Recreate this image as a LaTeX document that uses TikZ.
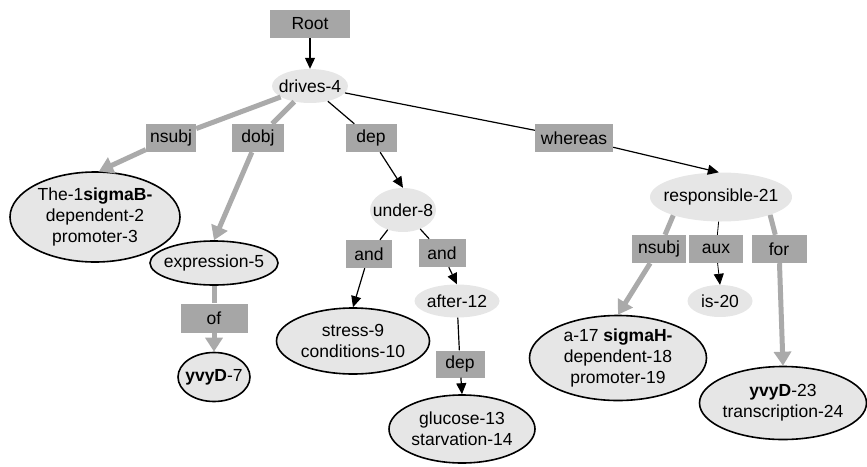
\documentclass[tikz,border=0pt]{standalone}
\usepackage{fontspec}
\setmainfont{Liberation Sans}
\usetikzlibrary{arrows.meta,shapes.geometric}
\definecolor{lblgray}{RGB}{166,166,166}
\definecolor{ellgray}{RGB}{230,230,230}
\definecolor{edgegray}{RGB}{170,170,170}
\tikzset{
  lbl/.style={rectangle,fill=lblgray,inner sep=0pt},
  wnode/.style={ellipse,fill=ellgray,inner sep=0pt},
  bnode/.style={wnode,draw=black,line width=1.6pt},
  garr/.style={draw=edgegray,line width=5pt},
  garrow/.style={garr,-{Triangle[length=14pt,width=17pt]}},
  barr/.style={draw=black,line width=1.2pt},
  barrow/.style={barr,-{Triangle[length=11pt,width=10pt]}},
  every label/.style={align=center,inner sep=0pt}
}
\begin{document}
\begin{tikzpicture}[x=1pt,y=-1pt,font=\fontsize{17.5}{21}\selectfont]
\useasboundingbox (0,0) rectangle (867,466);
% label boxes
\node[lbl,minimum width=80pt,minimum height=28pt] (root) at (310,24) {Root};
\node[lbl,minimum width=50pt,minimum height=28pt] (nsubj) at (171,138) {nsubj};
\node[lbl,minimum width=52pt,minimum height=28pt] (dobj) at (258,138) {dobj};
\node[lbl,minimum width=51pt,minimum height=28pt] (dep) at (371,138) {dep};
\node[lbl,minimum width=78pt,minimum height=28pt] (whereas) at (574,138) {whereas};
\node[lbl,minimum width=67pt,minimum height=29pt] (of) at (214,318) {of};
\node[lbl,minimum width=46pt,minimum height=28pt] (andl) at (369,254) {and};
\node[lbl,minimum width=47pt,minimum height=28pt] (andr) at (442,253) {and};
\node[lbl,minimum width=49pt,minimum height=27pt] (depl) at (460,364) {dep};
\node[lbl,minimum width=54pt,minimum height=28pt] (nsubjr) at (659,249) {nsubj};
\node[lbl,minimum width=54pt,minimum height=28pt] (aux) at (716,249) {aux};
\node[lbl,minimum width=55pt,minimum height=28pt] (for) at (779,249) {for};
% word nodes
\node[wnode,minimum width=76pt,minimum height=34pt,label={center:drives-4}] (drives) at (310,86) {};
\node[bnode,minimum width=170pt,minimum height=90pt,label={center:{The-1\textbf{sigmaB-}\\dependent-2\\promoter-3}}] (the1) at (95,217) {};
\node[wnode,minimum width=66pt,minimum height=44pt,label={center:under-8}] (under) at (403,210) {};
\node[wnode,minimum width=142pt,minimum height=49pt,label={center:responsible-21}] (resp) at (721,197) {};
\node[bnode,minimum width=128pt,minimum height=44pt,label={center:expression-5}] (expr) at (214,263) {};
\node[bnode,minimum width=72pt,minimum height=49pt,label={center:{\textbf{yvyD}-7}}] (yvyd7) at (214,377) {};
\node[bnode,minimum width=153pt,minimum height=66pt,label={center:{stress-9\\conditions-10}}] (stress) at (353,341) {};
\node[wnode,minimum width=85pt,minimum height=33pt,label={center:after-12}] (after) at (457,301) {};
\node[bnode,minimum width=146pt,minimum height=68pt,label={center:{glucose-13\\starvation-14}}] (glucose) at (462,429) {};
\node[wnode,minimum width=65pt,minimum height=32pt,label={center:is-20}] (is20) at (720,301) {};
\node[bnode,minimum width=177pt,minimum height=85pt,label={center:{a-17 \textbf{sigmaH-}\\dependent-18\\promoter-19}}] (a17) at (618,358) {};
\node[bnode,minimum width=167pt,minimum height=73pt,label={center:{\textbf{yvyD}-23\\transcription-24}}] (yvyd23) at (783,403) {};
% connectors
\draw[barrow] (root) -- (drives);
\draw[garr] (drives) -- (nsubj);
\draw[garrow] (nsubj) -- (the1.85);
\draw[garr] (drives) -- (dobj);
\draw[garrow] (dobj) -- (expr.north);
\draw[barr] (drives) -- (dep);
\draw[barrow] (dep) -- (under.north);
\draw[barr] (drives) -- (whereas);
\draw[barrow] (whereas) -- (resp.95);
\draw[garr] (expr) -- (of);
\draw[garrow] (of) -- (yvyd7.north);
\draw[barr] (under) -- (andl);
\draw[barrow] (andl) -- (stress.north);
\draw[barr] (under) -- (andr);
\draw[barrow] (andr) -- (after.north);
\draw[barr] (after) -- (depl);
\draw[barrow] (depl) -- (glucose.north);
\draw[garr] (resp.-159) -- (nsubjr);
\draw[garrow] (nsubjr) -- (a17.north);
\draw[barr,line width=0.8pt] (resp) -- (aux);
\draw[barrow,line width=0.8pt] (aux) -- (is20.north);
\draw[garr] (resp.-20) -- (for);
\draw[garrow] (for) -- (yvyd23.north);
\end{tikzpicture}
\end{document}
